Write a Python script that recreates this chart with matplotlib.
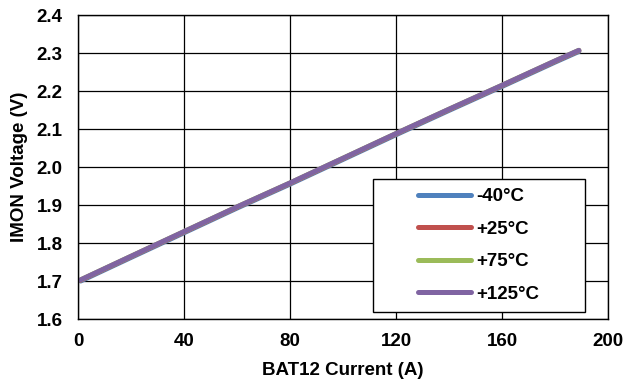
import matplotlib.pyplot as plt
from matplotlib.patches import Rectangle

# === DATA ===
current = [1, 20, 40, 60, 80, 100, 120, 140, 160, 180, 189]
v_m40 = [1.700, 1.762, 1.827, 1.892, 1.955, 2.020, 2.085, 2.149, 2.212, 2.276, 2.304]
v_25 = [1.702, 1.764, 1.829, 1.894, 1.957, 2.022, 2.087, 2.151, 2.214, 2.278, 2.306]
v_75 = [1.703, 1.765, 1.830, 1.895, 1.958, 2.023, 2.088, 2.152, 2.215, 2.279, 2.307]
v_125 = [1.703, 1.765, 1.830, 1.895, 1.958, 2.023, 2.088, 2.152, 2.215, 2.279, 2.307]
labels = ["-40°C", "+25°C", "+75°C", "+125°C"]
colors = ["#4F81BD", "#C0504D", "#9BBB59", "#8064A2"]

plt.rcParams['font.family'] = ['Liberation Sans', 'DejaVu Sans']
plt.rcParams['font.weight'] = 'bold'
FS = 13.5

fig = plt.figure(figsize=(6.27, 3.81), dpi=100)
ax = fig.add_axes([0.1244, 0.1627, 0.8453, 0.7979])

for ys, lab, c in zip([v_m40, v_25, v_75, v_125], labels, colors):
    ax.plot(current, ys, color=c, lw=3.6, label=lab, solid_capstyle='round')

ax.set_xlim(0, 200)
ax.set_ylim(1.6, 2.4)
ax.set_xticks(range(0, 201, 40))
ax.set_yticks([1.6 + 0.1 * i for i in range(9)])
ax.set_yticklabels([f"{1.6 + 0.1 * i:.1f}" for i in range(9)])
ax.grid(True, color='black', lw=0.9)
ax.set_axisbelow(True)
ax.tick_params(axis='x', length=0, labelsize=FS, pad=10)
ax.tick_params(axis='y', length=0, labelsize=FS, pad=11)
for s in ax.spines.values():
    s.set_color('black')
    s.set_linewidth(1.0)

ax.set_xlabel("BAT12 Current (A)", fontsize=FS, fontweight='bold', labelpad=9)
ax.set_ylabel("IMON Voltage (V)", fontsize=FS, fontweight='bold', labelpad=6)

# legend box drawn by hand so the entries sit centred inside it
box = Rectangle((0.5566, 0.023), 0.40, 0.4375, transform=ax.transAxes,
                facecolor='white', edgecolor='black', lw=1.0, zorder=4)
ax.add_patch(box)
leg = ax.legend(loc='center', bbox_to_anchor=(0.7566, 0.2418), frameon=False,
                fontsize=FS, handlelength=2.8, labelspacing=0.82,
                handletextpad=0.3)
leg.set_zorder(5)
for t in leg.get_texts():
    t.set_fontweight('bold')

fig.savefig("out.png", dpi=100)
